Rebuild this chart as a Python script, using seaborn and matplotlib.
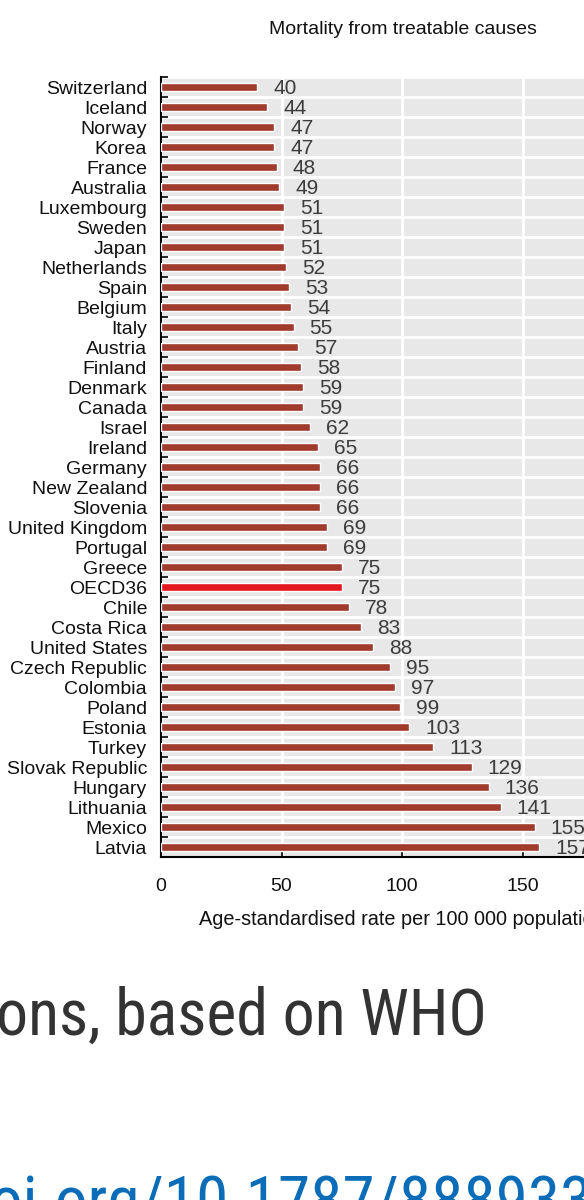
import matplotlib
matplotlib.use("Agg")
import matplotlib.pyplot as plt
import matplotlib.font_manager as fm
import seaborn as sns
import numpy as np

countries = ["Switzerland", "Iceland", "Norway", "Korea", "France", "Australia",
             "Luxembourg", "Sweden", "Japan", "Netherlands", "Spain", "Belgium",
             "Italy", "Austria", "Finland", "Denmark", "Canada", "Israel", "Ireland",
             "Germany", "New Zealand", "Slovenia", "United Kingdom", "Portugal",
             "Greece", "OECD36", "Chile", "Costa Rica", "United States",
             "Czech Republic", "Colombia", "Poland", "Estonia", "Turkey",
             "Slovak Republic", "Hungary", "Lithuania", "Mexico", "Latvia"]
values = [40, 44, 47, 47, 48, 49, 51, 51, 51, 52, 53, 54, 55, 57, 58, 59, 59, 62,
          65, 66, 66, 66, 69, 69, 75, 75, 78, 83, 88, 95, 97, 99, 103, 113, 129,
          136, 141, 155, 157]
x_ticks = [0, 50, 100, 150, 200]
title = "Mortality from treatable causes"
x_label = "Age-standardised rate per 100 000 population"
footer_text = "ons, based on WHO"
link_text = "oi.org/10.1787/888933"

BAR = "#a03a2d"
HIGHLIGHT = "#e3161e"

available = {f.name for f in fm.fontManager.ttflist}
def pick(*names):
    for n in names:
        if n in available:
            return n
    return "DejaVu Sans"

chart_font = pick("Liberation Sans", "Arial", "DejaVu Sans")
screen_font = pick("Roboto Condensed", "Roboto", "DejaVu Sans")

sns.set_theme(style="white")
plt.rcParams["font.family"] = [chart_font, "DejaVu Sans"]

fig = plt.figure(figsize=(5.84, 12), dpi=100)
fig.patch.set_facecolor("white")
ax = fig.add_axes([161 / 584, 1 - 857 / 1200, 482 / 584, 780 / 1200])
ax.set_facecolor("#e8e8e8")

palette = {c: (HIGHLIGHT if c == "OECD36" else BAR) for c in countries}
sns.barplot(x=values, y=countries, hue=countries, palette=palette, legend=False,
            orient="h", width=0.4, saturation=1, ax=ax, zorder=3)

ax.set_xlim(0, 200)
ax.set_ylim(len(countries) - 0.5, -0.5)
ax.set_xticks(x_ticks)
ax.set_xticklabels([str(t) for t in x_ticks], fontsize=14, color="#111111")
ax.set_yticks(range(len(countries)))
ax.set_yticklabels(countries, fontsize=14, color="#111111")
ax.set_yticks(np.arange(-0.5, len(countries), 1.0), minor=True)

ax.tick_params(axis="y", which="major", length=0, pad=10)
ax.tick_params(axis="y", which="minor", direction="in", length=5, width=1.2,
               color="black", left=True)
ax.tick_params(axis="x", which="major", direction="in", length=5, width=1.2,
               color="black", pad=15, bottom=True)

ax.grid(False)
ax.grid(axis="x", which="major", color="white", linewidth=2, zorder=1)
ax.grid(axis="y", which="minor", color="white", linewidth=2, zorder=1)
ax.set_axisbelow(True)

for side in ["top", "right"]:
    ax.spines[side].set_visible(False)
for side in ["left", "bottom"]:
    ax.spines[side].set_color("black")
    ax.spines[side].set_linewidth(1.5)

for i, v in enumerate(values):
    ax.annotate(str(v), xy=(v, i), xytext=(11.5, -1), textcoords="offset points",
                ha="left", va="center", fontsize=15, color="#3c3c3c")

ax.set_xlabel(x_label, fontsize=14.3, color="#111111", labelpad=11)
ax.set_ylabel("")

fig.text(403 / 584, 1 - 30 / 1200, title, ha="center", va="center",
         fontsize=14, color="#111111")

fig.text(-4 / 584, 1 - 1035 / 1200, footer_text, ha="left", va="baseline",
         fontsize=46, color="#333333", family=[screen_font, "DejaVu Sans"])
fig.text(-10 / 584, 1 - 1222 / 1200, link_text, ha="left", va="baseline",
         fontsize=47, color="#0b6db7", family=[screen_font, "DejaVu Sans"])

fig.savefig("out.png", dpi=100)
